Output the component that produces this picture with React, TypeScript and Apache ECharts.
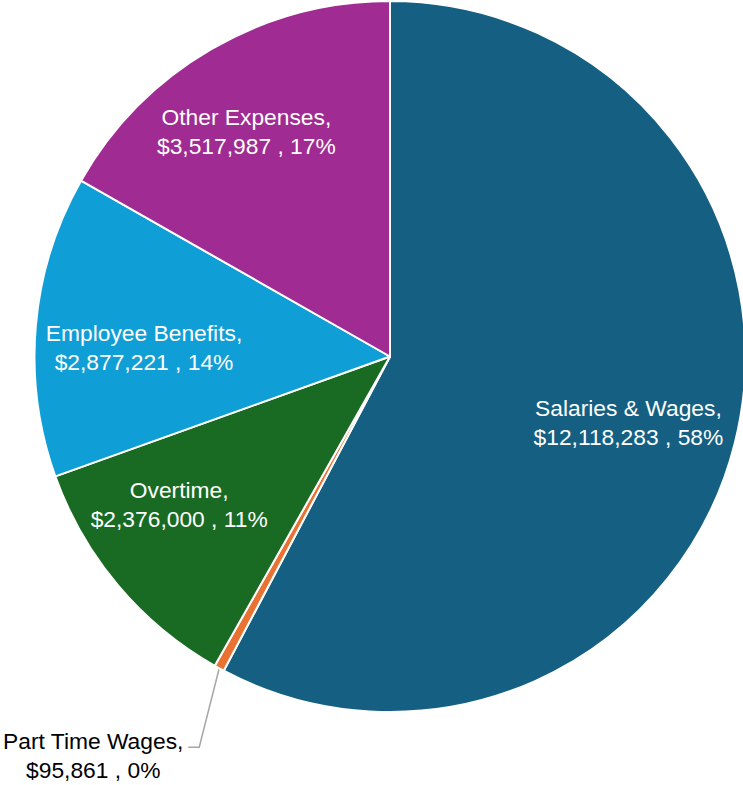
import React, { useEffect, useRef } from "react";
import * as echarts from "echarts";

const categories = ["Salaries & Wages", "Part Time Wages", "Overtime", "Employee Benefits", "Other Expenses"];
const values = [12118283, 95861, 2376000, 2877221, 3517987];
const colors = ["#156082", "#E97132", "#196B24", "#0F9ED5", "#A02B93"];
const outsideLabels = ["Part Time Wages"];
// small label position nudges (px), style only
const labelNudgeX = [-10, 0, -15, 9, -15];
const labelNudgeY = [4.5, 0, -16.5, 13, -4];

export default function App() {
  const ref = useRef<HTMLDivElement>(null);

  useEffect(() => {
    const chart = echarts.init(ref.current!, null, { renderer: "svg" });
    const cx = 390;
    const cy = 356.5;
    const R = 355.5;
    const labelRadius = 0.72;
    const total = values.reduce((a, b) => a + b, 0);
    const fmt = (v: number) => "$" + v.toLocaleString("en-US");
    const midAngle = (i: number) => {
      let s = 0;
      for (let k = 0; k < i; k++) s += values[k];
      return ((s + values[i] / 2) / total) * 2 * Math.PI;
    };
    const font = "'Liberation Sans', Arial, sans-serif";

    chart.setOption({
      animation: false,
      series: [
        {
          type: "pie",
          center: [cx, cy],
          radius: R,
          startAngle: 90,
          clockwise: true,
          avoidLabelOverlap: false,
          itemStyle: { borderColor: "#ffffff", borderWidth: 2 },
          label: {
            show: true,
            position: "inside",
            color: "#ffffff",
            fontSize: 22.8,
            lineHeight: 29,
            fontFamily: font,
            align: "center",
            verticalAlign: "middle",
            formatter: (p: any) =>
              `${p.name},\n${fmt(p.value)} , ${Math.round((p.value / total) * 100)}%`,
          },
          labelLine: { show: false },
          labelLayout: (p: any) => {
            const i = p.dataIndex;
            const th = midAngle(i);
            if (outsideLabels.includes(categories[i])) {
              const x0 = cx + R * Math.sin(th);
              const y0 = cy - R * Math.cos(th);
              const x1 = x0 - 20;
              const y1 = y0 + 79;
              const x2 = x1 - 11;
              return {
                x: x2 - 95,
                y: y1 + 8,
                align: "center",
                verticalAlign: "middle",
                labelLinePoints: [
                  [x0, y0],
                  [x1, y1],
                  [x2, y1],
                ],
              };
            }
            return {
              x: cx + labelRadius * R * Math.sin(th) + labelNudgeX[i],
              y: cy - labelRadius * R * Math.cos(th) + labelNudgeY[i],
              align: "center",
              verticalAlign: "middle",
            };
          },
          data: categories.map((name, i) => {
            const out = outsideLabels.includes(name);
            return {
              name,
              value: values[i],
              itemStyle: { color: colors[i] },
              label: out ? { position: "outside", color: "#000000" } : undefined,
              labelLine: out
                ? { show: true, length: 60, length2: 10, lineStyle: { color: "#a6a6a6", width: 1.5 } }
                : { show: false },
            };
          }),
        },
      ],
    });
    return () => chart.dispose();
  }, []);

  return (
    <div
      ref={ref}
      style={{ position: "fixed", left: 0, top: 0, width: 743, height: 785, background: "#ffffff" }}
    />
  );
}
